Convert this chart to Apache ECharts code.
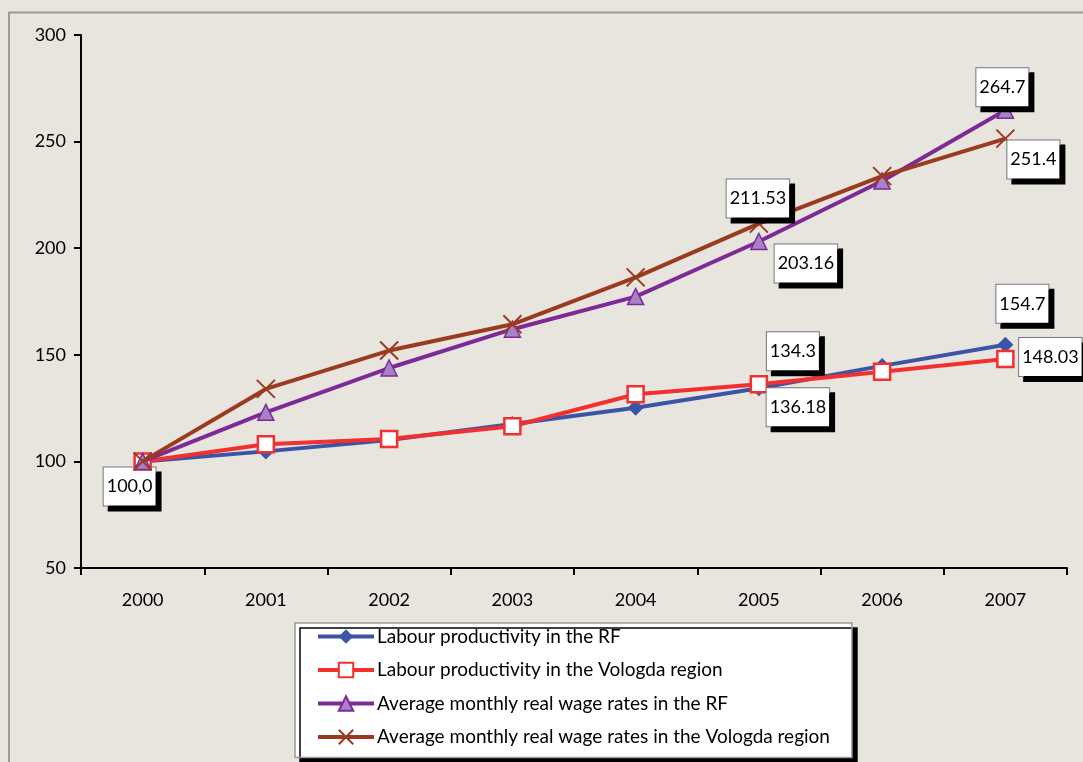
<!DOCTYPE html>
<html><head><meta charset="utf-8">
<script src="https://cdn.jsdelivr.net/npm/echarts@6/dist/echarts.min.js"></script>
<style>html,body{margin:0;padding:0;background:#e8e4de;}#c{width:1083px;height:762px;}</style>
</head><body><div id="c"></div>
<script>
const categories = ['2000','2001','2002','2003','2004','2005','2006','2007'];
const labourRF = [100, 104.7, 110, 117.5, 125.2, 134.3, 144.8, 154.7];
const labourVologda = [100, 108, 110.5, 116.5, 131.5, 136.18, 142, 148.03];
const wageRF = [100, 123, 143.8, 162, 177.3, 203.16, 231.5, 264.7];
const wageVologda = [100, 134, 152, 164.3, 186.3, 211.53, 233.8, 251.4];
const seriesNames = ['Labour productivity in the RF','Labour productivity in the Vologda region','Average monthly real wage rates in the RF','Average monthly real wage rates in the Vologda region'];
// labelled points: [seriesIndex, categoryIndex, text, offsetX, offsetY]
const labels = [
  [0, 0, '100,0', -13, 25],
  [2, 7, '264.7', -3, -23],
  [3, 7, '251.4', 28, 21],
  [3, 5, '211.53', -1, -25],
  [2, 5, '203.16', 47, 22],
  [0, 7, '154.7', 17, -41],
  [1, 7, '148.03', 45, -2],
  [0, 5, '134.3', 34, -37],
  [1, 5, '136.18', 39, 23]
];
const FONT = 'Lato';
const boxLabel = {
  show: true, position: 'inside', color: '#000', fontFamily: FONT, fontSize: 18, lineHeight: 22, height: 22,
  backgroundColor: '#fff', borderColor: '#777', borderWidth: 1,
  padding: [8, 3, 8, 3], shadowColor: '#000', shadowBlur: 0, shadowOffsetX: 5, shadowOffsetY: 5,
  align: 'center', verticalAlign: 'middle'
};
function mk(si, arr) {
  return arr.map((v, ci) => {
    const l = labels.find(x => x[0] === si && x[1] === ci);
    if (!l) return v;
    return { value: v, label: Object.assign({}, boxLabel, { formatter: l[2], offset: [l[3], l[4]] }) };
  });
}
const colors = ['#3a55a6', '#f2302f', '#7d2a97', '#9a3a1f'];
const chart = echarts.init(document.getElementById('c'), null, {renderer: 'canvas'});
chart.setOption({
  backgroundColor: '#e8e4de',
  animation: false,
  textStyle: { fontFamily: FONT },
  graphic: [{ type: 'rect', shape: { x: 9, y: 12.5, width: 1200, height: 900 }, style: { fill: 'none', stroke: '#9a9a9e', lineWidth: 2 }, silent: true, z: -1 }],
  grid: { left: 81, right: 16, top: 35, bottom: 194 },
  xAxis: {
    type: 'category', data: categories, boundaryGap: true,
    axisLine: { lineStyle: { color: '#000', width: 2 } },
    axisTick: { show: true, length: 7, lineStyle: { color: '#000', width: 2 } },
    axisLabel: { color: '#000', fontSize: 18, fontFamily: FONT, margin: 23 }
  },
  yAxis: {
    type: 'value', min: 50, max: 300, interval: 50,
    axisLine: { show: true, lineStyle: { color: '#000', width: 2 } },
    axisTick: { show: true, length: 7, lineStyle: { color: '#000', width: 2 } },
    axisLabel: { color: '#000', fontSize: 18, fontFamily: FONT, margin: 15 },
    splitLine: { show: false }
  },
  legend: {
    orient: 'vertical', left: 295, top: 623,
    backgroundColor: '#fff', borderColor: '#999', borderWidth: 1.5,
    shadowColor: '#000', shadowBlur: 0, shadowOffsetX: 5, shadowOffsetY: 5,
    padding: [4, 22, 11, 21], itemWidth: 56, itemHeight: 18, itemGap: 14.5,
    lineStyle: { width: 4 },
    textStyle: { color: '#000', fontSize: 19, fontFamily: FONT, padding: [0, 0, 0, -2] },
    data: seriesNames
  },
  series: [
    { name: seriesNames[0], type: 'line', data: mk(0, labourRF), symbol: 'diamond', symbolSize: 16,
      itemStyle: { color: colors[0] }, lineStyle: { color: colors[0], width: 4 }, z: 2 },
    { name: seriesNames[1], type: 'line', data: mk(1, labourVologda), symbol: 'rect', symbolSize: 16,
      itemStyle: { color: '#fff', borderColor: colors[1], borderWidth: 2.5 }, lineStyle: { color: colors[1], width: 4 }, z: 3 },
    { name: seriesNames[2], type: 'line', data: mk(2, wageRF), symbol: 'triangle', symbolSize: 16,
      itemStyle: { color: '#a583c4', borderColor: colors[2], borderWidth: 1.5 }, lineStyle: { color: colors[2], width: 4 }, z: 4 },
    { name: seriesNames[3], type: 'line', data: mk(3, wageVologda), symbol: 'path://M0 0L10 10M10 0L0 10', symbolSize: 18,
      itemStyle: { color: colors[3], borderColor: colors[3], borderWidth: 2 }, lineStyle: { color: colors[3], width: 4 }, z: 5 }
  ]
});
</script></body></html>
